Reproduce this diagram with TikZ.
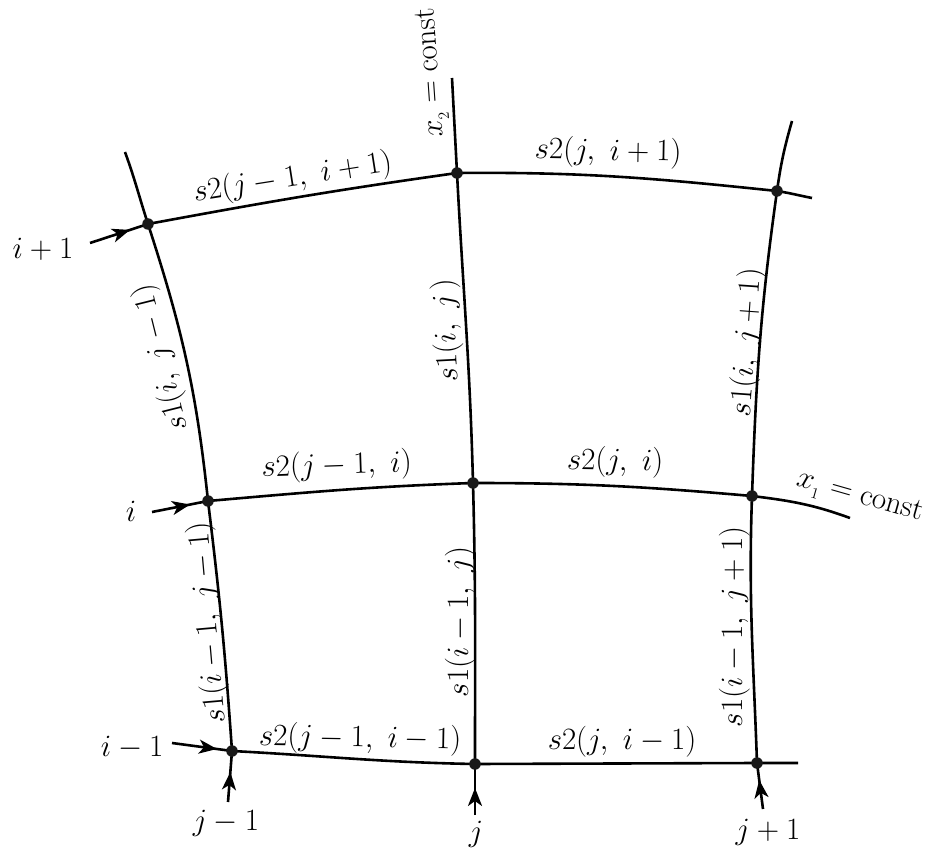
\RequirePackage{fix-cm}
\documentclass[tikz,border=0pt]{standalone}
\usetikzlibrary{arrows.meta,decorations.markings}
\begin{document}
\begin{tikzpicture}[x=1pt,y=1pt,
  gridline/.style={line width=2.6pt},
  dot/.style={circle,fill=black!90,inner sep=0pt,minimum size=11.5pt},
  lab/.style={font=\fontsize{31}{37}\selectfont, inner sep=0pt, anchor=base},
  feed/.style={line width=2.6pt, postaction={decorate},
    decoration={markings, mark=at position #1 with {\arrow{Stealth[length=18pt,width=14pt,inset=5pt]}}}},
]
\useasboundingbox (0,0) rectangle (927,-853);
% grid points
\coordinate (A1) at (148,-224);
\coordinate (B1) at (457,-173);
\coordinate (C1) at (777,-191);
\coordinate (A2) at (208,-501);
\coordinate (B2) at (473,-483);
\coordinate (C2) at (752,-496);
\coordinate (A3) at (232,-751);
\coordinate (B3) at (475,-764);
\coordinate (C3) at (757,-763);
% free ends
\coordinate (LT) at (125,-152);
\coordinate (MT) at (452,-78);
\coordinate (RT) at (792,-121);
\coordinate (TR) at (812,-198);
\coordinate (MR) at (850,-518);
\coordinate (BR) at (798,-763);
% arrow starts
\coordinate (a1) at (90,-243);
\coordinate (a2) at (152,-512);
\coordinate (a3) at (172,-743);
\coordinate (b1) at (228,-802);
\coordinate (b2) at (475,-815);
\coordinate (b3) at (763,-809);

% x2 = const lines
\draw[gridline] (LT) to[out=-70,in=108] (A1) to[out=-72,in=96] (A2) to[out=-83,in=94] (A3);
\draw[gridline] (MT) to[out=-87,in=93] (B1) to[out=-87,in=91.5] (B2) to[out=-88.5,in=90] (B3);
\draw[gridline] (RT) to[out=-106,in=82] (C1) to[out=-98,in=88] (C2) to[out=-92,in=92] (C3);
% x1 = const lines
\draw[gridline] (A1) to[out=10.5,in=188] (B1) to[out=0.5,in=174] (C1) to[out=-9,in=169] (TR);
\draw[gridline] (A2) to[out=5,in=182] (B2) to[out=0,in=175] (C2) to[out=-7,in=160] (MR);
\draw[gridline] (A3) to[out=-3,in=179] (B3) -- (C3) -- (BR);

% index arrows
\draw[feed=0.69] (a1) -- (A1);
\draw[feed=0.68] (a2) -- (A2);
\draw[feed=0.75] (a3) -- (A3);
\draw[feed=0.59] (b1) -- (A3);
\draw[feed=0.53] (b2) -- (B3);
\draw[feed=0.63] (b3) -- (C3);

% dots
\foreach \p in {A1,B1,C1,A2,B2,C2,A3,B3,C3}
  \node[dot] (d\p) at (\p) {};

% index labels
\node[lab] (li1) at (43,-259) {$i+1$};
\node[lab] (li2) at (131,-521) {$i$};
\node[lab] (li3) at (132,-756) {$i-1$};
\node[lab] (lj1) at (226,-830) {$j-1$};
\node[lab] (lj2) at (476,-841) {$j$};
\node[lab] (lj3) at (768,-839) {$j+1$};

% curve labels
\node[lab,rotate=94] (lx2) at (438,-72) {$x_{_2}=\mathrm{const}$};
\node[lab,rotate=-16] (lx1) at (858,-503) {$x_{_1}=\mathrm{const}$};

\node[lab,rotate=9] (s21) at (294,-186) {$s2(j-1,\ i+1)$};
\node[lab,rotate=-1] (s22) at (608,-160) {$s2(j,\ i+1)$};
\node[lab,rotate=2] (s23) at (337,-474) {$s2(j-1,\ i)$};
\node[lab,rotate=-1] (s24) at (615,-470) {$s2(j,\ i)$};
\node[lab,rotate=-1] (s25) at (360,-747) {$s2(j-1,\ i-1)$};
\node[lab] (s26) at (622,-749) {$s2(j,\ i-1)$};

\node[lab,rotate=104] (s11) at (169,-356) {$s1(i,\ j-1)$};
\node[lab,rotate=93] (s12) at (455,-330) {$s1(i,\ j\,)$};
\node[lab,rotate=86] (s13) at (755,-343) {$s1(i,\ j+1)$};
\node[lab,rotate=95] (s14) at (216,-622) {$s1(i-1,\ j-1)$};
\node[lab,rotate=90] (s15) at (468,-622) {$s1(i-1,\ j)$};
\node[lab,rotate=90] (s16) at (742,-627) {$s1(i-1,\ j+1)$};
\end{tikzpicture}
\end{document}
